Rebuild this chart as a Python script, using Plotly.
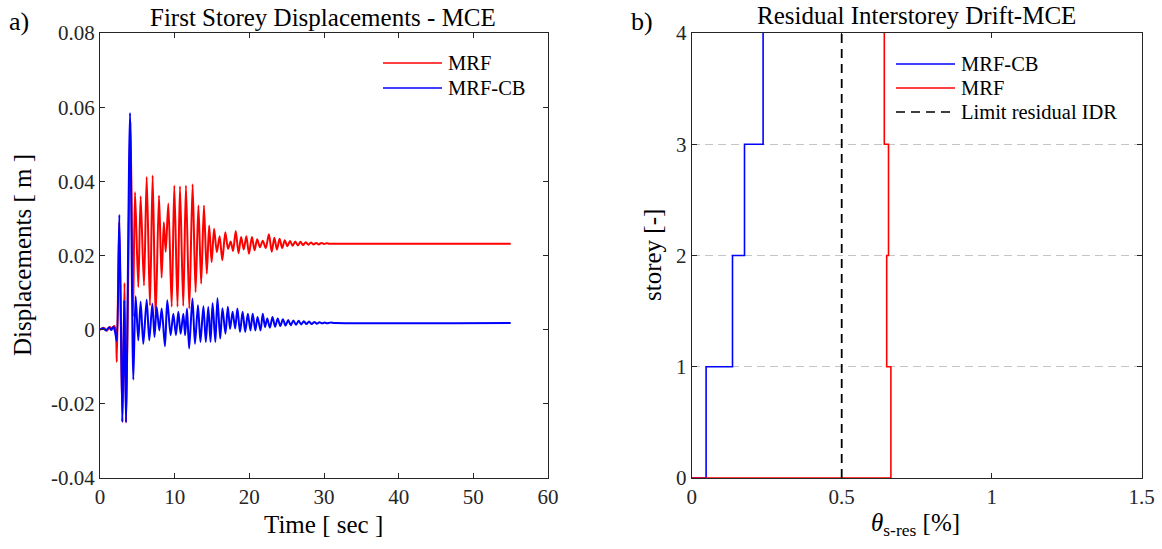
import plotly.graph_objects as go

# --------------------------------------------------
# a) First storey displacement history (peaks / troughs read off the chart)
# --------------------------------------------------
mrf_time = [
    0.0, 0.5, 0.9, 1.3, 1.6, 1.9, 2.1, 2.25, 2.57, 3.0, 3.28, 3.5, 4.08, 4.42,
    4.69, 5.13, 5.44, 5.89, 6.25, 6.69, 7.05, 7.45, 7.9, 8.25, 8.55, 8.8,
    9.15, 9.6, 9.95, 10.38, 10.71, 11.15, 11.51, 11.96, 12.4, 12.8, 13.18,
    13.55, 13.92, 14.3, 14.62, 14.95, 15.28, 15.65, 16.02, 16.38, 16.78,
    17.15, 17.5, 17.82, 18.18, 18.55, 18.9, 19.25, 19.6, 19.95, 20.35, 20.7,
    21.05, 21.42, 21.8, 22.2, 22.62, 23.0, 23.35, 23.7, 24.05, 24.4, 24.75,
    25.1, 25.45, 25.8, 26.15, 26.5, 26.85, 27.2, 27.55, 27.9, 28.25, 28.6,
    28.95, 29.3, 29.65, 30.0, 30.35, 30.7, 31.5, 55.0,
]
mrf_disp = [
    0.0, 0.0005, -0.0003, 0.0008, 0.0002, 0.001, 0.0, -0.0087, 0.029, -0.0249,
    0.0126, -0.025, 0.056, 0.0035, 0.0371, 0.0115, 0.036, 0.0119, 0.0412,
    0.0065, 0.0416, 0.0033, 0.0362, 0.014, 0.029, 0.021, 0.034, 0.0062,
    0.0389, 0.0062, 0.0387, 0.0064, 0.0389, 0.0057, 0.0392, 0.0101, 0.0335,
    0.0124, 0.0335, 0.0151, 0.0281, 0.0182, 0.0272, 0.0209, 0.0252, 0.0187,
    0.0263, 0.0218, 0.0238, 0.0212, 0.0266, 0.0206, 0.025, 0.0216, 0.0252,
    0.0205, 0.025, 0.0214, 0.0244, 0.0222, 0.024, 0.022, 0.0257, 0.021,
    0.0248, 0.0216, 0.0245, 0.022, 0.0241, 0.0225, 0.0239, 0.0226, 0.0238,
    0.0227, 0.0237, 0.0228, 0.0236, 0.0229, 0.0235, 0.023, 0.0234, 0.023,
    0.0234, 0.0231, 0.0233, 0.0232, 0.0232, 0.0232,
]

mrfcb_time = [
    0.0, 0.4, 0.8, 1.2, 1.5, 1.8, 2.05, 2.25, 2.59, 2.99, 3.25, 3.48, 4.02,
    4.46, 4.77, 5.13, 5.44, 5.8, 6.25, 6.6, 7.01, 7.3, 7.59, 7.94, 8.26, 8.7,
    9.01, 9.46, 9.82, 10.17, 10.49, 10.8, 11.16, 11.4, 11.65, 11.94, 12.38,
    12.72, 13.12, 13.45, 13.85, 14.17, 14.5, 14.8, 15.08, 15.45, 15.73, 16.1,
    16.4, 16.8, 17.12, 17.42, 17.76, 18.1, 18.4, 18.75, 19.1, 19.45, 19.8,
    20.15, 20.45, 20.8, 21.1, 21.5, 21.8, 22.1, 22.4, 22.75, 23.1, 23.45,
    23.8, 24.15, 24.5, 24.85, 25.2, 25.55, 25.9, 26.25, 26.6, 26.95, 27.3,
    27.65, 28.0, 28.35, 28.7, 29.05, 29.4, 29.75, 30.1, 30.45, 30.8, 31.5,
    55.0,
]
mrfcb_disp = [
    0.0, 0.0004, -0.0002, 0.0006, -0.0001, 0.0008, -0.001, -0.003, 0.031,
    -0.0249, 0.0079, -0.025, 0.0584, -0.0135, 0.009, -0.0029, 0.0075,
    -0.0038, 0.0081, -0.0029, 0.007, -0.002, 0.0061, -0.0002, 0.0057,
    -0.0045, 0.0079, -0.0015, 0.0043, -0.0015, 0.0048, -0.0011, 0.0043,
    -0.0015, 0.0057, -0.0051, 0.0084, -0.0038, 0.0066, -0.0033, 0.0063,
    -0.0033, 0.0061, -0.0033, 0.0071, -0.0033, 0.0085, -0.0024, 0.0058,
    -0.0011, 0.0062, 0.0002, 0.0048, 0.0003, 0.0057, -0.0006, 0.0048,
    -0.0006, 0.0043, -0.0002, 0.0043, -0.0002, 0.0034, -0.0002, 0.0043,
    0.0007, 0.003, 0.0005, 0.0034, 0.0008, 0.003, 0.001, 0.0028, 0.0011,
    0.0026, 0.0012, 0.0025, 0.0013, 0.0024, 0.0014, 0.0023, 0.0015, 0.0022,
    0.0015, 0.0021, 0.0016, 0.002, 0.0017, 0.0019, 0.0017, 0.0019, 0.0018,
    0.0018,
]

time_ticks = [0, 10, 20, 30, 40, 50, 60]
disp_ticks = [-0.04, -0.02, 0, 0.02, 0.04, 0.06, 0.08]
disp_tick_text = ["-0.04", "-0.02", "0", "0.02", "0.04", "0.06", "0.08"]

# --------------------------------------------------
# b) Residual interstorey drift per storey [%]
# --------------------------------------------------
storeys = [1, 2, 3, 4]
drift_mrfcb = [0.048, 0.136, 0.176, 0.238]
drift_mrf = [0.664, 0.650, 0.656, 0.642]
drift_limit = 0.5

drift_ticks = [0, 0.5, 1, 1.5]
drift_tick_text = ["0", "0.5", "1", "1.5"]
storey_ticks = [0, 1, 2, 3, 4]

W, H = 1162, 549
FONT = "Liberation Serif"
AX = "#262626"


def stairs(drifts):
    # storey profile drawn as a staircase starting at the base
    xs, ys = [0], [0]
    for i, d in enumerate(drifts):
        xs += [d, d]
        ys += [i, i + 1]
    return xs, ys


def px(x):
    return x / W


def py(y):
    return 1 - y / H


fig = go.Figure()

fig.add_trace(go.Scatter(x=mrf_time, y=mrf_disp, mode="lines", name="MRF",
                         line=dict(color="#ff0000", width=2, shape="spline", smoothing=0.8),
                         xaxis="x", yaxis="y", showlegend=False))
fig.add_trace(go.Scatter(x=mrfcb_time, y=mrfcb_disp, mode="lines", name="MRF-CB",
                         line=dict(color="#0000ff", width=2, shape="spline", smoothing=0.8),
                         xaxis="x", yaxis="y", showlegend=False))

bx, by = stairs(drift_mrfcb)
rx, ry = stairs(drift_mrf)
fig.add_trace(go.Scatter(x=bx, y=by, mode="lines", name="MRF-CB", cliponaxis=False,
                         line=dict(color="#0000ff", width=1.6),
                         xaxis="x2", yaxis="y2", showlegend=False))
fig.add_trace(go.Scatter(x=rx, y=ry, mode="lines", name="MRF", cliponaxis=False,
                         line=dict(color="#ff0000", width=1.6),
                         xaxis="x2", yaxis="y2", showlegend=False))
fig.add_trace(go.Scatter(x=[drift_limit, drift_limit], y=[storey_ticks[0], storey_ticks[-1]],
                         mode="lines", name="Limit residual IDR",
                         line=dict(color="#000000", width=1.8, dash="9px,6px"),
                         xaxis="x2", yaxis="y2", showlegend=False))

axis_common = dict(
    showline=True, mirror="ticks", linecolor=AX, linewidth=1,
    ticks="inside", ticklen=5, tickcolor=AX, tickwidth=1,
    showgrid=False, zeroline=False, automargin=False,
    tickfont=dict(family=FONT, size=21, color=AX),
)

ydom = [py(478), py(33)]

fig.update_layout(
    template="none",
    font=dict(family=FONT, size=21, color=AX),
    width=W, height=H, autosize=False,
    margin=dict(l=0, r=0, t=0, b=0, pad=0),
    paper_bgcolor="white", plot_bgcolor="white",
    xaxis=dict(axis_common, domain=[px(100), px(548)], range=[0, 60],
               tickvals=time_ticks, anchor="y"),
    yaxis=dict(axis_common, domain=ydom, range=[-0.04, 0.08],
               tickvals=disp_ticks, ticktext=disp_tick_text, anchor="x"),
    xaxis2=dict(axis_common, domain=[px(691.7), px(1141.7)], range=[0, 1.5],
                tickvals=drift_ticks, ticktext=drift_tick_text, anchor="y2",
                layer="below traces"),
    yaxis2=dict(axis_common, domain=ydom, range=[0, 4],
                tickvals=storey_ticks, anchor="x2",
                showgrid=True, gridcolor="#c4c4c4", gridwidth=1, griddash="8px,5px"),
)

ann = []


def text(x, y, s, size, angle=0, xanchor="center", yanchor="middle"):
    ann.append(dict(x=px(x), y=py(y), xref="paper", yref="paper", text=s,
                    showarrow=False, textangle=angle, xanchor=xanchor, yanchor=yanchor,
                    font=dict(family=FONT, size=size, color="#000000")))


text(19, 21, "a)", 26)
text(629, 21, "b)", 26, xanchor="left")
text(323, 17, "First Storey Displacements - MCE", 25)
text(916, 15, "Residual Interstorey Drift-MCE", 25)
text(22, 255, "Displacements [ m ]", 25, angle=-90)
text(652, 255, "storey [-]", 25, angle=-90)
text(323, 524, "Time [ sec ]", 25)
text(915, 524, "<i>θ</i><sub>s-res</sub> [%]", 25)

# legends drawn by hand so the line samples have the original length
shapes = []


def legend_row(x0, x1, y, color, label, dash="solid"):
    shapes.append(dict(type="line", xref="paper", yref="paper",
                       x0=px(x0), x1=px(x1), y0=py(y), y1=py(y),
                       line=dict(color=color, width=1.6, dash=dash)))
    text(x1 + 4, y, label, 20.5, xanchor="left")


legend_row(383, 442, 63, "#ff0000", "MRF")
legend_row(383, 442, 88, "#0000ff", "MRF-CB")
legend_row(896, 955, 64, "#0000ff", "MRF-CB")
legend_row(896, 955, 88, "#ff0000", "MRF")
legend_row(896, 955, 112, "#000000", "Limit residual IDR", dash="9px,6px")

fig.update_layout(annotations=ann, shapes=shapes)

# drop the default page margin so the figure sits at the window corner
fig.write_html("out.html", config={"displayModeBar": False},
               post_script="document.body.style.margin = '0';")
